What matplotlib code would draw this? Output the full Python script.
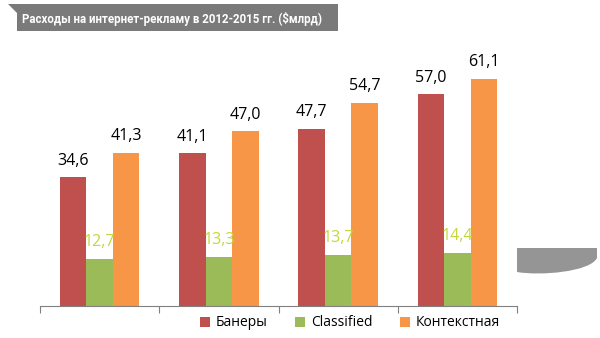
import matplotlib.pyplot as plt
import matplotlib.patches as patches
from matplotlib.path import Path
import numpy as np

# Dati: spesa per pubblicità online 2012-2015 (mld $)
years = ["2012", "2013", "2014", "2015"]
banners = [34.6, 41.1, 47.7, 57.0]
classified = [12.7, 13.3, 13.7, 14.4]
context = [41.3, 47.0, 54.7, 61.1]
series_names = ["Банеры", "Classified", "Контекстная"]
colors = ["#C0504D", "#9BBB59", "#F79646"]
label_colors = ["#000000", "#C5D63A", "#000000"]
title = "Расходы на интернет-рекламу в 2012-2015 гг. ($млрд)"

plt.rcParams["font.family"] = ["Open Sans", "DejaVu Sans"]

W, H = 600, 338
fig = plt.figure(figsize=(6, 3.38), dpi=100)
ax = fig.add_axes([40 / W, 1 - 306 / H, 477 / W, 260 / H])

x = np.arange(len(years))
bw = 0.222
offsets = [-bw, 0, bw]
for vals, off, col, lc, name in zip([banners, classified, context], offsets, colors, label_colors, series_names):
    bars = ax.bar(x + off, vals, width=bw, color=col, label=name)
    for b, v in zip(bars, vals):
        txt = f"{v:.1f}".replace(".", ",")
        ax.annotate(txt, (b.get_x() + b.get_width() / 2, v), xytext=(0, 12),
                    textcoords="offset points", ha="center", va="center",
                    fontsize=11.5, color=lc)

ax.set_xlim(-0.5, len(years) - 0.5)
ax.set_ylim(0, 70)
ax.set_yticks([])
ax.set_xticks(np.arange(len(years) + 1) - 0.5)
ax.set_xticklabels([])
ax.tick_params(axis="x", length=5, color="#808080", width=0.8)
for s in ["top", "right", "left"]:
    ax.spines[s].set_visible(False)
ax.spines["bottom"].set_color("#808080")
ax.spines["bottom"].set_linewidth(0.8)

leg = fig.legend(loc="center", bbox_to_anchor=(350 / W, 1 - 323 / H), ncol=3, frameon=False,
                 fontsize=10, handlelength=0.7, handleheight=0.7, handletextpad=0.4,
                 columnspacing=2.0)

# Nastro grigio del titolo in alto a sinistra
def px(xp, yp):
    return (xp / W, 1 - yp / H)

ribbon = [px(8, 4), px(338, 4), px(338, 31), px(17, 31), px(17, 13)]
fig.patches.append(patches.Polygon(ribbon, closed=True, transform=fig.transFigure,
                                   facecolor="#7A7A7A", edgecolor="none"))
t = fig.text(22 / W, 1 - 19 / H, title, color="white", fontsize=11, fontweight="bold",
             va="center", ha="left", family=["Roboto", "DejaVu Sans"])
# riduco il font finché il titolo sta in ~300 px
r = fig.canvas.get_renderer()
w = t.get_window_extent(r).width
t.set_fontsize(11 * 300 / w)

# Forma grigia a destra
verts = [px(517, 248), px(597, 248), px(597, 258), px(590, 272), px(540, 276), px(517, 272), px(517, 248)]
codes = [Path.MOVETO, Path.LINETO, Path.LINETO, Path.CURVE4, Path.CURVE4, Path.CURVE4, Path.CLOSEPOLY]
fig.patches.append(patches.PathPatch(Path(verts, codes), transform=fig.transFigure,
                                     facecolor="#959595", edgecolor="none"))

fig.savefig("out.png", dpi=100)
